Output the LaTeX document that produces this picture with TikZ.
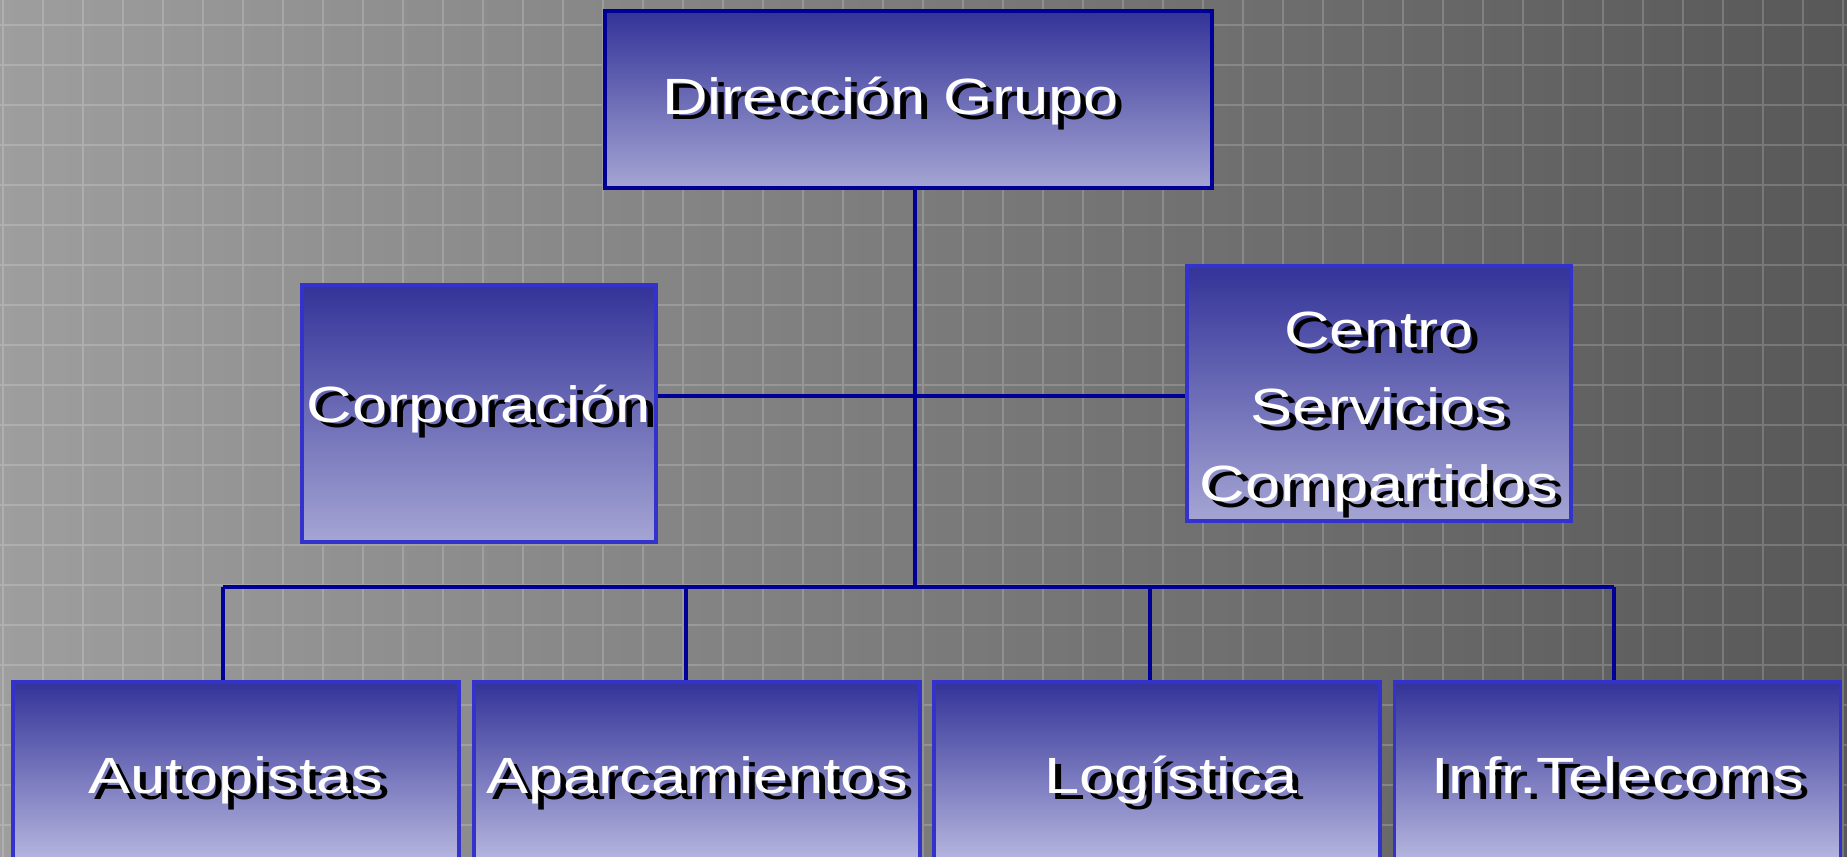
\documentclass[tikz,border=0pt]{standalone}
\usepackage{fontspec}
\setmainfont{Liberation Sans}
\newfontfamily\cajafont[FakeStretch=1.24]{Liberation Sans}
\definecolor{fondoizq}{RGB}{158,158,158}
\definecolor{fondoder}{RGB}{88,88,88}
\definecolor{cajaarriba}{RGB}{51,51,153}
\definecolor{cajaabajo}{RGB}{165,165,212}
\definecolor{cajaabajob}{RGB}{188,188,226}
\definecolor{bordeosc}{RGB}{0,0,150}
\definecolor{bordecla}{RGB}{51,51,204}
\definecolor{azulenlace}{RGB}{0,0,150}
\newcommand\sombra[1]{\makebox[0pt][l]{\hspace{1.8pt}\raisebox{-1.7pt}{\color{black}#1}}#1}
\tikzset{
  caja/.style={draw=bordecla, line width=1.1pt, top color=cajaarriba, bottom color=cajaabajo,
    text=white, align=center, inner sep=0pt, text depth=0pt,
    font={\cajafont\fontsize{14.5}{21.9}\selectfont}},
  cajabaja/.style={caja, bottom color=cajaabajob, minimum width=4.46cm, minimum height=1.86cm,
    text height=.37cm},
  enlace/.style={draw=azulenlace, line width=1.3pt}
}
\begin{document}
\begin{tikzpicture}
\useasboundingbox (0,0) rectangle (18.47,-8.56);
\clip (0,0) rectangle (18.47,-8.56);
% fondo con cuadricula
\fill[left color=fondoizq, right color=fondoder] (0,0) rectangle (18.47,-8.56);
\draw[white, opacity=.18, line width=.7pt, step=.4, shift={(.03,-.25)}] (-.4,-8.8) grid (18.8,.4);

\node[caja, draw=bordeosc, minimum width=6.07cm, minimum height=1.77cm, text height=.29cm] (grupo) at (9.085,-.995) {\sombra{Dirección Grupo}\makebox[.36cm]{}};
\node[caja, minimum width=3.54cm, minimum height=2.57cm, text height=.17cm] (corp) at (4.79,-4.135) {\sombra{Corporación}};
\node[caja, minimum width=3.84cm, minimum height=2.55cm, text depth=] (centro) at (13.79,-3.935)
  {\rule{0pt}{.78cm}\sombra{Centro}\\\sombra{Servicios}\\\sombra{Compartidos}};
\node[cajabaja] (auto) at (2.36,-7.75) {\sombra{Autopistas}};
\node[cajabaja] (aparc) at (6.97,-7.75) {\sombra{Aparcamientos}};
\node[cajabaja] (logis) at (11.57,-7.75) {\makebox[.28cm]{}\sombra{Logística}};
\node[cajabaja] (infr) at (16.175,-7.75) {\sombra{Infr.Telecoms}};

\coordinate (eje) at (9.15,-3.96);
\coordinate (bus) at (9.15,-5.87);
\coordinate (busA) at (2.23,-5.87);
\coordinate (busB) at (6.86,-5.87);
\coordinate (busC) at (11.5,-5.87);
\coordinate (busD) at (16.14,-5.87);

\draw[enlace] (grupo.south -| eje) -- (bus);
\draw[enlace] (corp.east |- eje) -- (centro.west |- eje);
\draw[enlace] (busA) -- (busD);
\draw[enlace] (busA) -- (busA |- auto.north);
\draw[enlace] (busB) -- (busB |- aparc.north);
\draw[enlace] (busC) -- (busC |- logis.north);
\draw[enlace] (busD) -- (busD |- infr.north);
\end{tikzpicture}
\end{document}
